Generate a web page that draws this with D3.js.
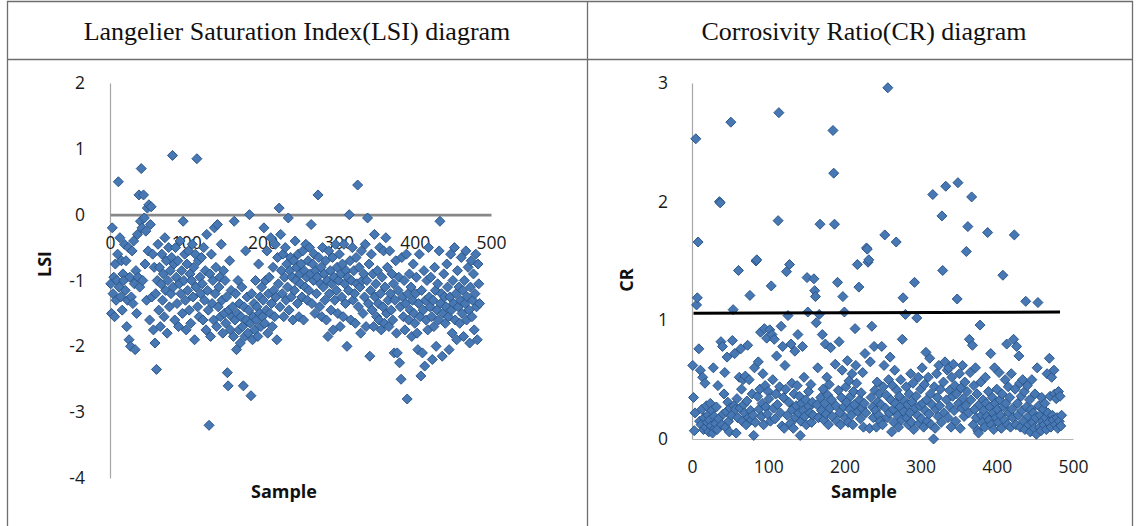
<!DOCTYPE html>
<html>
<head>
<meta charset="utf-8">
<script src="https://cdn.jsdelivr.net/npm/d3@7"></script>
<style>
  body { margin: 0; background: #fff; }
  svg { display: block; }
  .tick text { font-family: "Open Sans", sans-serif; font-size: 17.5px; fill: #1a1a1a; }
  .title { font-family: "Liberation Serif", serif; font-size: 26px; fill: #111; }
  .axis-title { font-family: "Open Sans", sans-serif; font-size: 18px; font-weight: bold; fill: #111; }
</style>
</head>
<body>
<div id="chart"></div>
<script>
// ||================================||
// || DATA                           ||
// ||================================||

var titles = ["Langelier Saturation Index(LSI) diagram", "Corrosivity Ratio(CR) diagram"];

var sampleTicks = [0, 100, 200, 300, 400, 500];
var lsiTicks = [-4, -3, -2, -1, 0, 1, 2];
var crTicks = [0, 1, 2, 3];

// LSI value per sample (sample number = position + 1)
var lsi = [
  -1.05, -1.5, -0.2, -1.2, -0.95, -1.55, -0.75, -1.3, -1.0, -0.6, 0.5, -1.1, -0.35, -1.25, -0.7, -1.45, -0.9, -1.0, -0.45, -1.15,
  -0.7, -1.7, -1.3, -0.5, -1.9, -0.95, -2.0, -1.25, -0.55, -1.35, -0.4, -1.05, -2.05, -0.85, -1.5, -0.3, -0.95, 0.3, -1.1, -0.1,
  0.7, -0.2, -1.0, 0.3, -0.05, -0.75, -0.25, -1.3, 0.1, -0.55, 0.15, -1.6, -0.15, 0.12, -1.25, -0.6, -1.75, -0.8, -1.95, -1.2,
  -2.35, -1.0, -0.45, -1.45, -0.8, -1.7, -1.05, -0.6, -1.3, -0.9, -1.55, -0.35, -1.15, -0.7, -1.8, -1.0, -0.5, -1.4, -0.85, -1.2,
  -0.65, 0.9, -1.1, -0.75, -1.6, -0.5, -0.95, -1.35, -0.7, -1.7, -1.05, -0.4, -1.2, -0.85, -1.5, -0.1, -1.0, -0.6, -1.3, -1.75,
  -0.75, -1.15, -0.55, -1.45, -0.9, -1.65, -1.0, -0.45, -1.25, -0.8, -1.9, -0.6, -1.1, 0.85, -1.4, -0.7, -1.55, -0.95, -1.2, -0.65,
  -1.05, -1.6, -0.5, -1.3, -0.85, -1.75, -0.3, -1.15, -1.45, -3.2, -0.9, -1.85, -0.6, -1.35, -1.0, -1.6, -0.2, -1.2, -0.8, -1.7,
  -0.15, -1.4, -1.1, -0.95, -1.55, -0.45, -1.3, -1.8, -0.85, -1.5, -1.0, -1.65, -1.25, -2.4, -2.6, -1.45, -0.7, -1.75, -1.15, -1.55,
  -1.4, -1.85, -0.1, -1.6, -1.2, -2.05, -1.5, -1.0, -1.75, -1.35, -1.95, -1.55, -1.1, -1.7, -2.6, -1.4, -1.85, -0.55, -1.6, -1.25,
  -1.8, -1.45, 0.0, -1.65, -2.75, -1.2, -1.9, -1.55, -1.35, -1.75, -1.0, -1.6, -1.4, -1.85, -0.75, -1.5, -1.25, -1.7, -1.1, -1.55,
  -1.3, -0.2, -1.65, -1.0, -1.45, -0.55, -1.8, -1.2, -0.95, -1.5, -0.35, -1.35, -1.7, -0.8, -1.15, -1.55, -0.45, -1.25, -1.9, -0.65,
  -1.05, 0.1, -1.4, -0.3, -0.85, -1.2, -0.6, -1.55, -0.95, -0.5, -1.3, -0.75, -1.1, -0.05, -1.45, -0.85, -0.65, -1.25, -0.95, -1.6,
  -0.7, -1.15, -0.4, -1.0, -0.8, -1.35, -0.6, -1.55, -0.9, -1.05, -0.75, -1.25, -0.55, -1.6, -0.85, -1.1, -0.45, -0.95, -1.3, -0.7,
  -1.15, -0.5, -0.9, -0.15, -1.35, -0.75, -1.0, -0.6, -1.5, -0.85, -1.2, -0.95, 0.3, -0.65, -1.4, -1.05, -0.8, -1.55, -0.5, -1.1,
  -0.9, -1.3, -0.7, -1.6, -1.0, -1.85, -0.55, -1.2, -0.85, -1.45, -1.05, -0.65, -1.75, -0.95, -1.3, -0.45, -1.15, -0.8, -1.5, -1.0,
  -0.6, -1.7, -0.9, -1.25, -0.75, -1.55, -0.45, -1.05, -1.35, -0.85, -2.0, -0.95, -1.15, 0.0, -0.7, -1.6, -1.0, -0.5, -1.3, -0.85,
  -1.2, -1.65, -0.65, -1.05, 0.45, -1.4, -0.8, -1.1, -1.8, -0.55, -1.0, -1.5, -0.9, -1.25, -0.45, -1.7, -1.0, -0.05, -1.35, -0.75,
  -2.15, -1.15, -0.6, -1.45, -0.9, -1.7, -0.3, -1.25, -1.05, -1.55, -0.85, -1.35, -1.6, -0.5, -1.2, -1.75, -0.95, -1.4, -0.55, -1.65,
  -1.1, -0.35, -1.5, -0.8, -1.3, -1.7, -0.55, -1.2, -1.45, -0.9, -1.6, -1.05, -2.1, -1.3, -0.7, -1.8, -2.1, -1.15, -0.95, -2.25,
  -1.4, -2.5, -0.65, -1.25, -1.55, -1.0, -1.75, -1.35, -0.6, -2.8, -1.2, -1.6, -0.9, -1.45, -1.1, -1.85, -1.3, -0.75, -1.5, -1.65,
  -1.2, -0.95, -1.8, -2.05, -1.35, -0.6, -1.55, -2.45, -1.15, -2.1, -1.45, -0.85, -2.3, -1.3, -1.6, -1.0, -1.75, -0.5, -1.25, -1.4,
  -0.95, -1.55, -2.2, -1.3, -1.7, -0.8, -1.15, -2.0, -1.45, -1.05, -1.6, -0.55, -0.1, -1.35, -1.2, -2.15, -1.5, -0.9, -1.25, -1.65,
  -1.4, -0.75, -1.1, -1.55, -2.05, -1.25, -0.6, -1.45, -1.8, -1.0, -1.35, -0.5, -1.6, -1.2, -1.9, -0.85, -1.4, -1.1, -1.65, -1.3,
  -0.65, -1.5, -1.15, -1.85, -1.0, -1.35, -0.55, -1.6, -1.25, -0.8, -1.45, -1.95, -1.1, -0.7, -1.55, -1.3, -0.9, -1.75, -1.2, -0.6,
  -1.4, -1.9, -0.75, -1.05, -1.35
];

// CR value per sample
var cr = [
  0.62, 0.35, 0.07, 0.22, 2.53, 1.13, 1.19, 1.66, 0.76, 0.15, 0.58, 0.12, 0.25, 0.52, 0.08, 0.18, 0.47, 0.1, 0.28, 0.14,
  0.2, 0.06, 0.16, 0.3, 0.11, 0.24, 0.05, 0.6, 0.19, 0.09, 0.13, 0.27, 0.08, 0.45, 0.17, 2.0, 1.99, 0.82, 0.12, 0.78,
  0.21, 0.38, 0.56, 0.1, 0.23, 0.69, 0.31, 0.15, 0.06, 0.26, 2.67, 0.2, 0.83, 1.09, 0.28, 0.72, 0.25, 0.05, 0.34, 0.18,
  1.42, 0.52, 0.26, 0.76, 0.42, 0.15, 0.5, 0.29, 0.22, 0.53, 0.12, 0.32, 0.79, 0.18, 0.5, 1.21, 0.24, 0.16, 0.38, 0.2,
  0.03, 0.6, 0.14, 1.5, 1.51, 0.36, 0.65, 0.25, 0.42, 0.9, 0.19, 0.3, 0.55, 0.12, 0.93, 0.45, 0.27, 0.85, 0.21, 0.4,
  0.34, 0.92, 0.15, 1.29, 0.88, 0.5, 0.26, 0.84, 0.17, 0.38, 0.7, 0.29, 1.84, 2.75, 0.44, 0.22, 0.95, 0.11, 0.78, 0.35,
  0.09, 0.62, 0.42, 1.41, 0.2, 1.04, 0.31, 1.47, 0.13, 0.8, 0.47, 0.25, 0.09, 0.38, 0.74, 0.18, 0.28, 0.45, 0.88, 0.22,
  0.36, 0.03, 0.15, 0.3, 0.78, 0.24, 0.52, 0.19, 0.33, 0.12, 1.36, 1.07, 0.4, 0.27, 0.22, 0.46, 0.14, 0.31, 0.2, 1.35,
  1.25, 1.2, 0.98, 0.29, 0.6, 0.18, 1.05, 1.81, 0.35, 0.24, 0.88, 0.42, 0.16, 0.3, 0.8, 0.21, 0.52, 0.37, 0.12, 0.46,
  0.26, 0.77, 0.33, 0.19, 2.6, 2.24, 1.81, 0.63, 0.28, 0.15, 1.32, 0.41, 0.82, 0.22, 0.12, 0.35, 0.58, 1.2, 0.27, 1.07,
  0.18, 0.44, 0.31, 0.66, 0.14, 0.49, 0.25, 0.36, 0.2, 0.55, 0.12, 0.4, 0.29, 0.93, 0.62, 0.47, 1.47, 0.23, 1.28, 0.33,
  0.17, 0.39, 0.26, 0.56, 0.1, 0.3, 0.72, 0.22, 1.61, 1.6, 1.49, 1.51, 0.09, 0.65, 0.35, 0.95, 0.27, 0.18, 0.78, 0.41,
  0.24, 0.1, 0.48, 0.31, 0.2, 0.38, 0.15, 0.29, 0.78, 0.12, 0.44, 0.62, 1.72, 0.26, 0.37, 0.18, 2.96, 0.5, 0.22, 0.69,
  0.33, 0.06, 0.45, 0.25, 0.14, 0.58, 0.3, 1.66, 0.41, 0.2, 0.1, 0.36, 0.27, 0.5, 0.16, 0.84, 1.19, 0.23, 0.32, 1.05,
  0.44, 0.18, 0.29, 0.12, 0.38, 0.22, 0.55, 0.14, 0.31, 0.47, 0.08, 1.32, 0.26, 0.36, 1.02, 0.2, 0.52, 0.13, 0.28, 0.42,
  0.17, 0.6, 0.3, 0.1, 0.46, 0.24, 0.73, 0.33, 0.15, 0.52, 0.21, 0.68, 0.38, 0.12, 0.29, 2.06, 0.0, 0.44, 0.09, 0.25,
  0.55, 0.35, 0.19, 0.62, 0.28, 0.42, 0.14, 1.88, 1.42, 0.48, 0.22, 0.65, 2.13, 0.33, 0.58, 0.18, 0.6, 0.41, 0.27, 0.1,
  0.52, 0.36, 0.63, 0.24, 0.45, 0.15, 0.38, 1.18, 2.16, 0.3, 0.55, 0.09, 0.43, 0.26, 0.62, 0.34, 0.19, 0.48, 0.28, 1.58,
  0.4, 1.79, 0.22, 0.84, 0.56, 0.33, 2.04, 0.79, 0.12, 0.45, 0.25, 0.6, 0.18, 0.38, 0.07, 0.05, 0.29, 0.96, 0.48, 0.2,
  0.14, 0.33, 0.24, 0.1, 0.52, 0.3, 0.19, 1.74, 0.4, 0.16, 0.27, 0.72, 0.12, 0.35, 0.22, 0.08, 0.6, 0.3, 0.18, 0.42,
  0.25, 0.14, 0.56, 0.33, 0.2, 0.09, 0.38, 1.38, 0.27, 0.16, 0.5, 0.3, 0.8, 0.12, 0.44, 0.22, 0.35, 0.1, 0.55, 0.25,
  0.18, 0.84, 1.72, 0.42, 0.12, 0.78, 0.3, 0.2, 0.7, 0.47, 0.1, 0.36, 0.24, 0.5, 0.15, 0.4, 0.08, 1.16, 0.27, 0.45,
  0.19, 0.12, 0.33, 0.06, 0.25, 0.5, 0.14, 0.22, 0.09, 0.38, 0.18, 0.04, 0.6, 1.15, 0.28, 0.1, 0.2, 0.07, 0.35, 0.15,
  0.25, 0.12, 0.3, 0.18, 0.08, 0.55, 0.22, 0.14, 0.68, 0.36, 0.1, 0.52, 0.2, 0.16, 0.58, 0.38, 0.12, 0.34, 0.18, 0.09,
  0.4, 0.15, 0.36, 0.11, 0.2
];

// black reference line on the CR chart: [sample, CR]
var crLine = [[2, 1.06], [483, 1.07]];

// ||================================||
// || LAYOUT                         ||
// ||================================||

var width = 1137,
    height = 526;

var svg = d3.select("#chart")
  .append("svg")
    .attr("width", width)
    .attr("height", height);

svg.append("rect")
    .attr("width", width)
    .attr("height", height)
    .attr("fill", "white");

// table grid
var grid = svg.append("g")
    .attr("stroke", "#6e6e6e")
    .attr("stroke-width", 1.3);
grid.append("line").attr("x1", 7).attr("x2", 1133).attr("y1", 1.5).attr("y2", 1.5);
grid.append("line").attr("x1", 7).attr("x2", 1133).attr("y1", 59.5).attr("y2", 59.5);
grid.append("line").attr("x1", 7.5).attr("x2", 7.5).attr("y1", 1).attr("y2", height);
grid.append("line").attr("x1", 587.5).attr("x2", 587.5).attr("y1", 1).attr("y2", height);
grid.append("line").attr("x1", 1132.5).attr("x2", 1132.5).attr("y1", 1).attr("y2", height);

svg.selectAll(".title")
  .data(titles)
  .enter().append("text")
    .attr("class", "title")
    .attr("x", function(d, i) { return i == 0 ? 297 : 864; })
    .attr("y", 40)
    .attr("text-anchor", "middle")
    .text(function(d) { return d; });

function diamond(x, y) {
  var r = 5;
  return "M" + x + "," + (y - r) + "L" + (x + r) + "," + y +
         "L" + x + "," + (y + r) + "L" + (x - r) + "," + y + "Z";
}

function drawPoints(g, values, x, y) {
  g.append("g")
    .selectAll("path")
    .data(values)
    .enter().append("path")
      .attr("d", function(d, i) { return diamond(x(i + 1), y(d)); })
      .attr("fill", "#4778b4")
      .attr("stroke", "#2c578a")
      .attr("stroke-width", 1);
}

// plain hyphen for negatives, like the original
var fmt = function(d) { return String(d); };

// ||================================||
// || LSI CHART                      ||
// ||================================||

var xL = d3.scaleLinear().domain([0, 500]).range([110, 491]);
var yL = d3.scaleLinear().domain([-4, 2]).range([478, 83]);

var lsiG = svg.append("g");

lsiG.append("g")
    .attr("transform", "translate(" + xL(0) + ",0)")
    .call(d3.axisLeft(yL).tickValues(lsiTicks).tickSize(0).tickPadding(25).tickFormat(fmt))
    .call(function(g) { g.select(".domain").attr("stroke", "#a6a6a6").attr("stroke-width", 1.2); });

lsiG.append("g")
    .attr("transform", "translate(0," + yL(0) + ")")
    .call(d3.axisBottom(xL).tickValues(sampleTicks).tickSize(0).tickPadding(22).tickFormat(fmt))
    .call(function(g) { g.select(".domain").attr("stroke", "#878787").attr("stroke-width", 2.6); });

drawPoints(lsiG, lsi, xL, yL);

lsiG.append("text")
    .attr("class", "axis-title")
    .attr("x", 284)
    .attr("y", 498)
    .attr("text-anchor", "middle")
    .text("Sample");

lsiG.append("text")
    .attr("class", "axis-title")
    .attr("transform", "translate(51,264) rotate(-90)")
    .attr("text-anchor", "middle")
    .text("LSI");

// ||================================||
// || CR CHART                       ||
// ||================================||

var xC = d3.scaleLinear().domain([0, 500]).range([692, 1073]);
var yC = d3.scaleLinear().domain([0, 3]).range([439, 83]);

var crG = svg.append("g");

crG.append("g")
    .attr("transform", "translate(" + xC(0) + ",0)")
    .call(d3.axisLeft(yC).tickValues(crTicks).tickSize(0).tickPadding(24).tickFormat(fmt))
    .call(function(g) { g.select(".domain").attr("stroke", "#a6a6a6").attr("stroke-width", 1.2); });

crG.append("g")
    .attr("transform", "translate(0," + yC(0) + ")")
    .call(d3.axisBottom(xC).tickValues(sampleTicks).tickSize(0).tickPadding(22).tickFormat(fmt))
    .call(function(g) { g.select(".domain").attr("stroke", "#b5b5b5").attr("stroke-width", 1.2); });

drawPoints(crG, cr, xC, yC);

crG.append("path")
    .datum(crLine)
    .attr("fill", "none")
    .attr("stroke", "#000")
    .attr("stroke-width", 3)
    .attr("d", d3.line()
      .x(function(d) { return xC(d[0]); })
      .y(function(d) { return yC(d[1]); }));

crG.append("text")
    .attr("class", "axis-title")
    .attr("x", 864)
    .attr("y", 498)
    .attr("text-anchor", "middle")
    .text("Sample");

crG.append("text")
    .attr("class", "axis-title")
    .attr("transform", "translate(633,280) rotate(-90)")
    .attr("text-anchor", "middle")
    .text("CR");

svg.selectAll(".tick text").attr("font-size", null).attr("fill", null).attr("font-family", null);
</script>
</body>
</html>
